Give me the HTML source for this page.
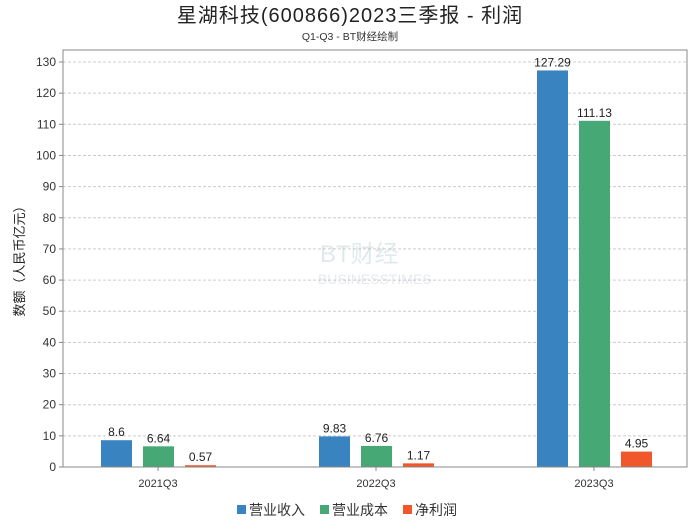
<!DOCTYPE html>
<html><head><meta charset="utf-8"><style>
body{margin:0;background:#fff;font-family:"Liberation Sans","Noto Sans CJK SC",sans-serif}
svg text{font-family:"Liberation Sans","Noto Sans CJK SC",sans-serif}
</style></head><body>
<svg id="c" width="700" height="524">
<text x="350" y="22" text-anchor="middle" font-size="20" letter-spacing="1" fill="#222">星湖科技(600866)2023三季报 - 利润</text>
<text x="350" y="40" text-anchor="middle" font-size="10.5" fill="#333">Q1-Q3 - BT财经绘制</text>
<g id="grid"></g>
<g opacity="0.25">
<text x="320" y="262" font-size="24" fill="#8aa" font-family="Liberation Serif">BT财经</text>
<text x="318" y="284" font-size="14" fill="#9ab" font-family="Liberation Serif">BUSINESSTIMES</text>
</g>
<g id="bars"></g>
<rect x="63" y="50" width="624" height="417" fill="none" stroke="#888"/>
<text transform="translate(24,258) rotate(-90)" text-anchor="middle" font-size="13" fill="#222">数额（人民币亿元）</text>
<g font-size="14" fill="#333">
<rect x="237" y="505" width="9" height="9" fill="#3a83c1"/>
<text x="249" y="515">营业收入</text>
<rect x="320" y="505" width="9" height="9" fill="#45a875"/>
<text x="332" y="515">营业成本</text>
<rect x="403" y="505" width="9" height="9" fill="#f0572a"/>
<text x="415" y="515">净利润</text>
</g>
</svg>
<script>
const categories=["2021Q3","2022Q3","2023Q3"];
const revenue=[8.6,9.83,127.29];
const cost=[6.64,6.76,111.13];
const profit=[0.57,1.17,4.95];
const yTicks=[0,10,20,30,40,50,60,70,80,90,100,110,120,130];
const NS="http://www.w3.org/2000/svg";
const y=v=>467-v*405/130;
const xc=i=>158+i*218;
const grid=document.getElementById('grid'),bars=document.getElementById('bars');
function mk(tag,attrs,parent){const e=document.createElementNS(NS,tag);for(const k in attrs)e.setAttribute(k,attrs[k]);parent.appendChild(e);return e;}
yTicks.forEach(t=>{
  const l=mk('line',{x1:63,x2:687,y1:y(t),y2:y(t),stroke:'#ccc','stroke-dasharray':'3,2'},grid);
  
  
  const k=mk('line',{x1:59,x2:63,y1:y(t),y2:y(t),stroke:'#888'},grid);
  
  
  const tx=mk('text',{x:56,y:y(t)+4,'text-anchor':'end','font-size':12,fill:'#333'},grid);
  tx.textContent=t;
  
  
});
const series=[[revenue,'#3a83c1','revenue'],[cost,'#45a875','cost'],[profit,'#f0572a','profit']];
categories.forEach((c,i)=>{
  const t=mk('text',{x:xc(i),y:487,'text-anchor':'middle','font-size':11,fill:'#333'},bars);
  t.textContent=c;
  
  
  const k=mk('line',{x1:xc(i),x2:xc(i),y1:467,y2:471,stroke:'#888'},bars);
  
  
  series.forEach((s,j)=>{
    const v=s[0][i],bx=xc(i)-57+j*42;
    const r=mk('rect',{x:bx,y:y(v),width:31,height:467-y(v),fill:s[1]},bars);
    
    
    const lb=mk('text',{x:bx+15.5,y:y(v)-4,'text-anchor':'middle','font-size':12,fill:'#222'},bars);
    lb.textContent=v;
    
    
  });
});
</script>
</body></html>
